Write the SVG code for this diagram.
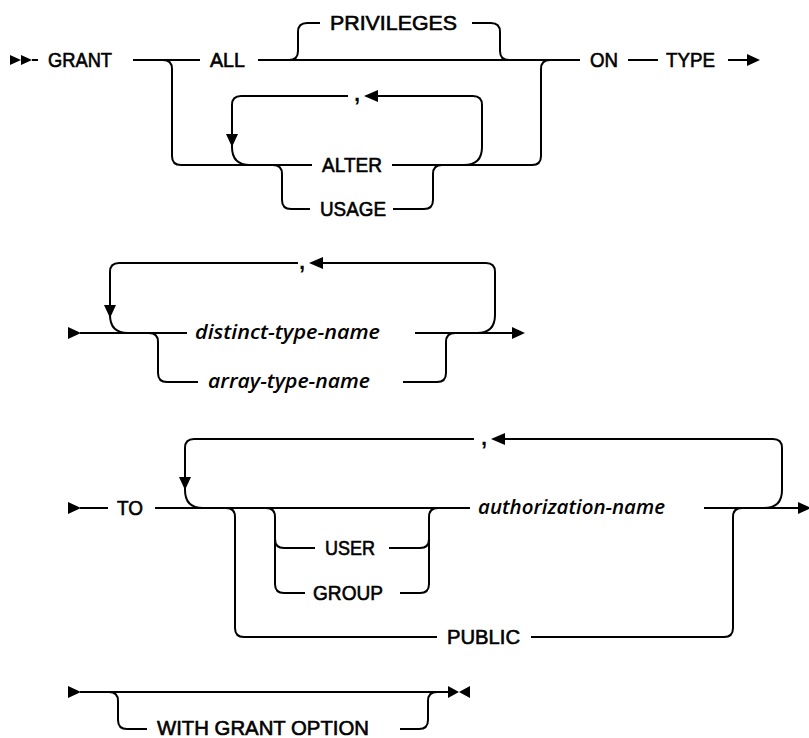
<svg xmlns="http://www.w3.org/2000/svg" width="809" height="738" viewBox="0 0 809 738">
<style>
.ln{fill:none;stroke:#000;stroke-width:2;stroke-linejoin:round}
.ah{fill:#000;stroke:none}
.kw{font-family:"Liberation Sans",Arial,sans-serif;font-size:20px;fill:#000;stroke:#000;stroke-width:0.6}
.cm{font-family:"Liberation Sans",Arial,sans-serif;font-size:22px;font-weight:bold;fill:#000}
.it{font-family:"Open Sans","Liberation Sans",sans-serif;font-size:19px;font-style:italic;font-weight:600;fill:#000}
</style>
<rect width="809" height="738" fill="#fff"/>
<g id="connectors">
  <!-- Row 1 -->
  <path class="ln" d="M32 60 H38"/>
  <path class="ln" d="M133 60 H200"/>
  <path class="ln" d="M258 60 H580"/>
  <path class="ln" d="M163 60 Q172 60 172 69 V156 Q172 165 181 165 H312"/>
  <path class="ln" d="M392 165 H532 Q541 165 541 156 V69 Q541 60 550 60"/>
  <path class="ln" d="M289 60 Q298 60 298 51 V32 Q298 23 307 23 H320"/>
  <path class="ln" d="M472 23 H491 Q500 23 500 32 V51 Q500 60 509 60"/>
  <path class="ln" d="M250 165 Q232 165 232 147 V105 Q232 96 241 96 H348"/>
  <path class="ln" d="M378 96 H473 Q482 96 482 105 V147 Q482 165 464 165"/>
  <path class="ln" d="M273 165 Q282 165 282 174 V200 Q282 209 291 209 H310"/>
  <path class="ln" d="M393 209 H424 Q433 209 433 200 V174 Q433 165 442 165"/>
  <path class="ln" d="M628 60 H658"/>
  <path class="ln" d="M728 60 H750"/>
  <!-- Row 2 -->
  <path class="ln" d="M80 333 H187"/>
  <path class="ln" d="M128 333 Q110 333 110 315 V272 Q110 263 119 263 H298"/>
  <path class="ln" d="M322 263 H486 Q495 263 495 272 V315 Q495 333 477 333"/>
  <path class="ln" d="M415 333 H513"/>
  <path class="ln" d="M149 333 Q158 333 158 342 V373 Q158 382 167 382 H198"/>
  <path class="ln" d="M403 382 H437 Q446 382 446 373 V342 Q446 333 455 333"/>
  <!-- Row 3 -->
  <path class="ln" d="M80 508 H108"/>
  <path class="ln" d="M155 508 H470"/>
  <path class="ln" d="M203 508 Q185 508 185 490 V448 Q185 439 194 439 H474"/>
  <path class="ln" d="M504 439 H773 Q782 439 782 448 V490 Q782 508 764 508"/>
  <path class="ln" d="M704 508 H800"/>
  <path class="ln" d="M226 508 Q235 508 235 517 V628 Q235 637 244 637 H437"/>
  <path class="ln" d="M531 637 H724 Q733 637 733 628 V517 Q733 508 742 508"/>
  <path class="ln" d="M266 508 Q275 508 275 517 V539 Q275 548 284 548 H315"/>
  <path class="ln" d="M275 539 V584 Q275 593 284 593 H305"/>
  <path class="ln" d="M389 548 H420 Q429 548 429 539 V517 Q429 508 438 508"/>
  <path class="ln" d="M400 593 H420 Q429 593 429 584 V539"/>
  <!-- Row 4 -->
  <path class="ln" d="M80 692 H448"/>
  <path class="ln" d="M109 692 Q118 692 118 701 V720 Q118 729 127 729 H147"/>
  <path class="ln" d="M400 729 H419 Q428 729 428 720 V701 Q428 692 437 692"/>
  <!-- arrowheads -->
  <path class="ah" d="M10 55 L21 60 L10 65 Z M21 55 L32 60 L21 65 Z"/>
  <path class="ah" d="M760 60 L747 54 L747 66 Z"/>
  <path class="ah" d="M232 147 L226 134 L238 134 Z"/>
  <path class="ah" d="M364 96 L378 90 L378 102 Z"/>
  <path class="ah" d="M68 327 L81 333 L68 339 Z"/>
  <path class="ah" d="M110 318 L104 305 L116 305 Z"/>
  <path class="ah" d="M309 263 L323 257 L323 269 Z"/>
  <path class="ah" d="M525 333 L512 327 L512 339 Z"/>
  <path class="ah" d="M68 502 L81 508 L68 514 Z"/>
  <path class="ah" d="M185 490 L179 477 L191 477 Z"/>
  <path class="ah" d="M491 439 L505 433 L505 445 Z"/>
  <path class="ah" d="M811 508 L798 502 L798 514 Z"/>
  <path class="ah" d="M68 686 L81 692 L68 698 Z"/>
  <path class="ah" d="M448 686 L459 692 L448 698 Z M470 686 L459 692 L470 698 Z"/>
</g>
<g id="n-grant"><text class="kw" x="48" y="67" textLength="64" lengthAdjust="spacingAndGlyphs">GRANT</text></g>
<g id="n-all"><text class="kw" x="210" y="67" textLength="35" lengthAdjust="spacingAndGlyphs">ALL</text></g>
<g id="n-privileges"><text class="kw" x="330" y="30" textLength="127" lengthAdjust="spacingAndGlyphs">PRIVILEGES</text></g>
<g id="n-comma1"><text class="cm" x="354" y="101">,</text></g>
<g id="n-alter"><text class="kw" x="322" y="172" textLength="60" lengthAdjust="spacingAndGlyphs">ALTER</text></g>
<g id="n-usage"><text class="kw" x="320" y="216" textLength="66" lengthAdjust="spacingAndGlyphs">USAGE</text></g>
<g id="n-on"><text class="kw" x="590" y="67" textLength="28" lengthAdjust="spacingAndGlyphs">ON</text></g>
<g id="n-type"><text class="kw" x="666" y="67" textLength="49" lengthAdjust="spacingAndGlyphs">TYPE</text></g>
<g id="n-comma2"><text class="cm" x="299" y="269">,</text></g>
<g id="n-distinct"><text class="it" x="195" y="339" textLength="185" lengthAdjust="spacingAndGlyphs">distinct-type-name</text></g>
<g id="n-array"><text class="it" x="208" y="388" textLength="162" lengthAdjust="spacingAndGlyphs">array-type-name</text></g>
<g id="n-to"><text class="kw" x="117" y="515" textLength="26" lengthAdjust="spacingAndGlyphs">TO</text></g>
<g id="n-comma3"><text class="cm" x="481" y="445">,</text></g>
<g id="n-authname"><text class="it" x="478" y="514" textLength="187" lengthAdjust="spacingAndGlyphs">authorization-name</text></g>
<g id="n-user"><text class="kw" x="325" y="555" textLength="50" lengthAdjust="spacingAndGlyphs">USER</text></g>
<g id="n-group"><text class="kw" x="313" y="600" textLength="70" lengthAdjust="spacingAndGlyphs">GROUP</text></g>
<g id="n-public"><text class="kw" x="447" y="644" textLength="73" lengthAdjust="spacingAndGlyphs">PUBLIC</text></g>
<g id="n-wgo"><text class="kw" x="157" y="735" textLength="212" lengthAdjust="spacingAndGlyphs">WITH GRANT OPTION</text></g>
</svg>
